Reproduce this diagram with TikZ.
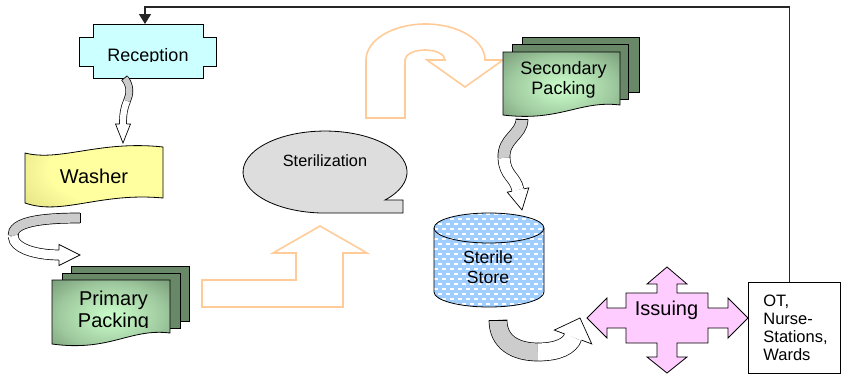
\documentclass[tikz,border=0pt]{standalone}
\usepackage{fontspec}
\setmainfont{Liberation Sans}
\usetikzlibrary{arrows.meta,calc}
\definecolor{recfill}{RGB}{204,255,255}
\definecolor{washin}{RGB}{255,255,160}
\definecolor{washout}{RGB}{200,200,110}
\definecolor{docdark}{RGB}{92,122,92}
\definecolor{docback}{RGB}{104,136,104}
\definecolor{docmint}{RGB}{204,255,204}
\definecolor{stergray}{RGB}{221,221,221}
\definecolor{bandgray}{RGB}{204,204,204}
\definecolor{lorange}{RGB}{255,204,153}
\definecolor{storeblue}{RGB}{160,206,255}
\definecolor{isspink}{RGB}{255,204,255}

\pgfdeclareradialshading{docglow}{\pgfpoint{0bp}{0bp}}{color(0bp)=(docmint);
  color(22bp)=(docmint!60!docdark); color(46bp)=(docdark); color(70bp)=(docdark)}
\pgfdeclareradialshading{washglow}{\pgfpoint{8bp}{8bp}}{color(0bp)=(washin);
  color(22bp)=(washin); color(52bp)=(washout); color(80bp)=(washout)}

% head of a curved band arrow: base point, tip, half band, half barb
\newcommand\bandtip[4]{%
  \fill[white] ($(#1)!#4!90:(#2)$) -- (#2) -- ($(#1)!#4!-90:(#2)$) -- cycle;
  \draw[bandedge] ($(#1)!#3!90:(#2)$) -- ($(#1)!#4!90:(#2)$) -- (#2)
    -- ($(#1)!#4!-90:(#2)$) -- ($(#1)!#3!-90:(#2)$);}
% cut end of a band: start point, next control, half band
\newcommand\bandcut[3]{%
  \draw[bandedge] ($(#1)!#3!90:(#2)$) -- ($(#1)!#3!-90:(#2)$);}

\begin{document}
\begin{tikzpicture}[x=1pt, y=-1pt,
  outl/.style={draw=black, line width=0.8pt, line join=miter},
  orng/.style={draw=lorange, line width=1.6pt, line join=miter},
  lbl/.style={inner sep=0pt, anchor=base, align=center},
  bandedge/.style={draw=black, line width=0.7pt},
  gband/.style={draw=black, line width=0.7pt, double=bandgray, double distance=#1},
  wband/.style={draw=black, line width=0.7pt, double=white, double distance=#1},
  otbox/.style={draw=black, line width=0.8pt, anchor=north west, minimum width=92pt,
                minimum height=91pt, inner xsep=15pt, text width=62pt, align=left,
                font=\fontsize{16.5}{18}\selectfont},
  backline/.style={draw=black!85, line width=1.5pt, -{Triangle[length=10pt,width=12pt]}}
]
\useasboundingbox (0,0) rectangle (841,378);

% Orange block arrows
\draw[orng] (202,280) -- (296,280) -- (296,253) -- (273,253) -- (320,226) -- (367,253)
  -- (343,253) -- (343,307) -- (202,307) -- cycle;
\draw[orng] (366,118) -- (366,60) arc[start angle=180, end angle=0, x radius=59.5pt, y radius=36pt]
  -- (503,60) -- (465,87) -- (427,60) -- (445,60)
  arc[start angle=0, end angle=180, x radius=20pt, y radius=10pt] -- (405,118) -- cycle;

% Reception
\draw[outl, fill=recfill] (93,24) -- (203,24) -- (203,37) -- (216,37) -- (216,66) -- (203,66)
  -- (203,78) -- (93,78) -- (93,66) -- (79,66) -- (79,37) -- (93,37) -- cycle;
\begin{scope}
  \clip (79,24) rectangle (216,61);
  \node[lbl, font=\fontsize{18}{20}\selectfont] (rec) at (148,61) {Reception};
\end{scope}
\coordinate (rec-top) at (145,24);

% Washer
\shade[shading=washglow] (25,153) .. controls (60,162) and (100,140) .. (163,147)
  -- (163,198) .. controls (100,192) and (62,216) .. (25,203) -- cycle;
\draw[outl] (25,153) .. controls (60,162) and (100,140) .. (163,147)
  -- (163,198) .. controls (100,192) and (62,216) .. (25,203) -- cycle;
\node[lbl, font=\fontsize{20}{22}\selectfont] (wash) at (94,183) {Washer};

% Primary packing
\draw[outl, fill=docback] (71,266) rectangle (189,321);
\draw[outl, fill=docback] (62,273) rectangle (180,328);
\shade[shading=docglow] (52,280) -- (170,280) -- (170,333)
  .. controls (130,328) and (110,352) .. (52,344) -- cycle;
\draw[outl] (52,280) -- (170,280) -- (170,333) .. controls (130,328) and (110,352) .. (52,344) -- cycle;
\begin{scope}
  \clip (52,280) rectangle (170,327);
  \node[lbl, font=\fontsize{20}{22}\selectfont] (prim) at (113.5,327) {Primary\\Packing};
\end{scope}

% Sterilization
\draw[outl, fill=stergray] (385,200) arc[start angle=-43, end angle=270, x radius=82pt, y radius=41pt]
  -- (403,213) -- (403,200) -- cycle;
\node[lbl, font=\fontsize{16.3}{18}\selectfont] (ster) at (325,166) {Sterilization};

% Secondary packing
\draw[outl, fill=docback] (522,37) rectangle (639,92);
\draw[outl, fill=docback] (512,44) rectangle (628,99);
\shade[shading=docglow] (503,52) -- (620,52) -- (620,105)
  .. controls (580,100) and (560,122) .. (503,115) -- cycle;
\draw[outl] (503,52) -- (620,52) -- (620,105) .. controls (580,100) and (560,122) .. (503,115) -- cycle;
\node[lbl, font=\fontsize{18}{20}\selectfont] (sec) at (563.5,94) {Secondary\\Packing};

% Sterile store
\begin{scope}
  \clip (434,228) -- (434,292) arc[start angle=180, end angle=360, x radius=55pt, y radius=15pt]
    -- (544,228) arc[start angle=0, end angle=180, x radius=55pt, y radius=15pt] -- cycle;
  \fill[storeblue] (430,210) rectangle (550,310);
  \foreach \r in {0,...,19}
    \foreach \c in {0,...,14}
      \draw[white, line width=1.3pt] ({430+\c*8+mod(\r,2)*4},{214+\r*5}) -- ++(4,0);
\end{scope}
\draw[outl] (434,228) -- (434,292) arc[start angle=180, end angle=360, x radius=55pt, y radius=15pt]
  -- (544,228);
\draw[outl] (489,228) ellipse[x radius=55pt, y radius=15pt];
\node[lbl, font=\fontsize{17.6}{20.5}\selectfont] (store) at (488,283.5) {Sterile\\Store};

% Issuing
\draw[outl, fill=isspink] (667,267) -- (687,284) -- (677,284) -- (677,293) -- (708,293) -- (708,308)
  -- (728,308) -- (728,298) -- (748,318) -- (728,338) -- (728,328) -- (708,328) -- (708,343)
  -- (677,343) -- (677,357) -- (687,357) -- (667,373) -- (647,357) -- (657,357) -- (657,343)
  -- (626,343) -- (626,328) -- (607,328) -- (607,338) -- (587,318) -- (607,298) -- (607,308)
  -- (626,308) -- (626,293) -- (657,293) -- (657,284) -- (647,284) -- cycle;
\node[lbl, font=\fontsize{20}{22}\selectfont] (iss) at (666.5,315) {Issuing};

% Wards
\node[otbox] (ot) at (748,282) {OT,\\Nurse-\\Stations,\\Wards};

% Curved band arrows
\draw[gband=6.3pt] (124.5,78) .. controls (131,86) and (130,94) .. (127,101);
\draw[wband=6.3pt] (127,101) .. controls (124,108) and (123,114) .. (123,124);
\bandcut{124.5,78}{131,86}{3.5pt}
\bandtip{123,124}{123,143}{3.5pt}{7.5pt}

\draw[gband=9.3pt] (80,218) .. controls (40,218) and (12,222) .. (13,236);
\draw[wband=9.3pt] (13,236) .. controls (14,250) and (40,255) .. (59,255);
\bandcut{80,218}{40,218}{5pt}
\bandtip{59,255}{80,255}{5pt}{10.5pt}

\draw[gband=11.3pt] (522,119) .. controls (522,135) and (503,138) .. (504,158);
\draw[wband=11.3pt] (504,158) .. controls (505,176) and (515,176) .. (518,190);
\bandcut{522,119}{522,135}{6pt}
\bandtip{518,190}{522,210}{6pt}{11pt}

\draw[gband=17.3pt] (498,320) .. controls (498,342) and (515,352) .. (538,352);
\draw[wband=17.3pt] (538,352) .. controls (558,352) and (570,346) .. (573,337);
\bandcut{498,320}{498,342}{9pt}
\bandtip{573,337}{580,318}{9pt}{20pt}

% Back to reception
\draw[backline] ([xshift=-5pt]ot.north) -- ++(0,-275) -| (rec-top);
\end{tikzpicture}
\end{document}
